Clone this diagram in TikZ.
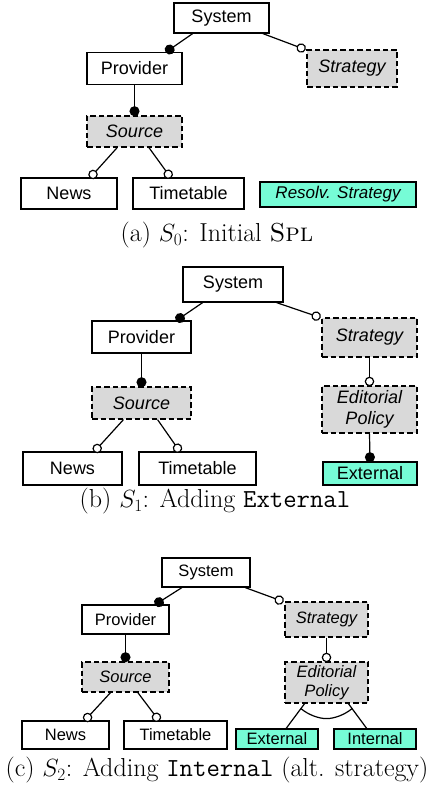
\documentclass[tikz,border=0pt]{standalone}
\usepackage{fontspec}
\newfontfamily\hv{Liberation Sans}
\usetikzlibrary{arrows.meta,calc}
\definecolor{grayf}{RGB}{217,217,217}
\definecolor{cyanf}{RGB}{118,252,214}
\tikzset{
  fbox/.style={draw, line width=1.2pt, fill=white, inner sep=0pt, align=center},
  absbox/.style={fbox, fill=grayf, dash pattern=on 5.5pt off 3pt},
  resbox/.style={fbox, fill=cyanf},
  fa/.style={font=\hv\fontsize{18}{21.5}\selectfont},
  fai/.style={font=\hv\itshape\fontsize{18}{21.5}\selectfont},
  fc/.style={font=\hv\fontsize{16.5}{19.5}\selectfont},
  fci/.style={font=\hv\itshape\fontsize{16.5}{19.5}\selectfont},
  conn/.style={line width=1.2pt},
  mand/.style={conn, -{Circle[length=10pt,width=10pt]}, shorten >=-0.8pt},
  opt/.style={conn, -{Circle[open,length=9.5pt,width=9.5pt,fill=white,line width=1.2pt]}, shorten >=-0.8pt},
  captext/.style={font=\fontsize{26}{30}\selectfont}
}
\newcommand{\bpt}[2]{($(#1.south west)!#2!(#1.south east)$)}
\newcommand{\tpt}[2]{($(#1.north west)!#2!(#1.north east)$)}
\begin{document}
\begin{tikzpicture}[x=1pt,y=-1pt]
\useasboundingbox (0,0) rectangle (433,794);
% ---------- (a)
\node[fbox,fa,minimum width=95pt,minimum height=30pt] (sysA) at (221.5,18) {System};
\node[fbox,fa,minimum width=95pt,minimum height=32pt] (provA) at (134.5,68.5) {Provider};
\node[absbox,fai,minimum width=90pt,minimum height=37pt] (strA) at (352,68.5) {Strategy};
\node[absbox,fai,minimum width=95pt,minimum height=31pt] (srcA) at (134.5,131.5) {Source};
\node[fbox,fa,minimum width=96pt,minimum height=31pt] (newsA) at (69,193.5) {News};
\node[fbox,fa,minimum width=111pt,minimum height=31pt] (timeA) at (188.5,193.5) {Timetable};
\node[resbox,font=\hv\itshape\fontsize{17}{20}\selectfont,minimum width=156pt,minimum height=25pt] (resA) at (338,194.5) {Resolv. Strategy};
\node[captext] (capA) at (217,235) {(a) $S_0$: Initial \textsc{Spl}};
\draw[mand] \bpt{sysA}{0.2} -- \tpt{provA}{0.83};
\draw[opt] \bpt{sysA}{0.93} -- ($(strA.north west)+(-1.5,0)$);
\draw[mand] (provA.south) -- (srcA.north);
\draw[opt] \bpt{srcA}{0.32} -- \tpt{newsA}{0.72};
\draw[opt] \bpt{srcA}{0.65} -- \tpt{timeA}{0.34};
% ---------- (b)
\node[fbox,fa,minimum width=100pt,minimum height=35pt] (sysB) at (233,284.5) {System};
\node[fbox,fa,minimum width=99pt,minimum height=32pt] (provB) at (141.5,337) {Provider};
\node[absbox,fai,minimum width=95pt,minimum height=39pt] (strB) at (369.5,337.5) {Strategy};
\node[absbox,fai,minimum width=99pt,minimum height=32pt] (srcB) at (141.5,403) {Source};
\node[absbox,fai,minimum width=95pt,minimum height=47pt] (edB) at (369.5,409.5) {Editorial\\Policy};
\node[fbox,fa,minimum width=99pt,minimum height=33pt] (newsB) at (72.5,468.5) {News};
\node[fbox,fa,minimum width=117pt,minimum height=33pt] (timeB) at (197.5,468.5) {Timetable};
\node[resbox,fa,minimum width=94pt,minimum height=23pt] (extB) at (370,473.5) {External};
\node[captext] (capB) at (215,501) {(b) $S_1$: Adding \texttt{External}};
\draw[mand] \bpt{sysB}{0.2} -- \tpt{provB}{0.85};
\draw[opt] \bpt{sysB}{0.93} -- ($(strB.north west)+(-1.5,0)$);
\draw[mand] (provB.south) -- (srcB.north);
\draw[opt] \bpt{srcB}{0.32} -- \tpt{newsB}{0.72};
\draw[opt] \bpt{srcB}{0.66} -- \tpt{timeB}{0.35};
\draw[opt] (strB.south) -- (edB.north);
\draw[mand] (edB.south) -- (extB.north);
% ---------- (c)
\node[fbox,fc,minimum width=88pt,minimum height=29pt] (sysC) at (206,572.5) {System};
\node[fbox,fc,minimum width=87pt,minimum height=29pt] (provC) at (125.5,619.5) {Provider};
\node[absbox,fci,minimum width=83pt,minimum height=35pt] (strC) at (326.5,619.5) {Strategy};
\node[absbox,fci,minimum width=87pt,minimum height=30pt] (srcC) at (125.5,677) {Source};
\node[absbox,fci,minimum width=83pt,minimum height=41pt] (edC) at (326.5,682.5) {Editorial\\Policy};
\node[fbox,fc,minimum width=87pt,minimum height=28pt] (newsC) at (65.5,735) {News};
\node[fbox,fc,minimum width=103pt,minimum height=28pt] (timeC) at (175.5,735) {Timetable};
\node[resbox,fc,minimum width=82pt,minimum height=20pt] (extC) at (277,739) {External};
\node[resbox,fc,minimum width=82pt,minimum height=20pt] (intC) at (375,739) {Internal};
\node[captext] (capC) at (217,770) {(c) $S_2$: Adding \texttt{Internal} (alt. strategy)};
\draw[mand] \bpt{sysC}{0.23} -- \tpt{provC}{0.84};
\draw[opt] \bpt{sysC}{0.94} -- ($(strC.north west)+(-1.5,0)$);
\draw[mand] (provC.south) -- (srcC.north);
\draw[opt] \bpt{srcC}{0.33} -- \tpt{newsC}{0.72};
\draw[opt] \bpt{srcC}{0.64} -- \tpt{timeC}{0.34};
\draw[opt] (strC.south) -- (edC.north);
\path \bpt{edC}{0.24} coordinate (eL1);
\path \tpt{extC}{0.61} coordinate (eL2);
\path \bpt{edC}{0.76} coordinate (eR1);
\path \tpt{intC}{0.4} coordinate (eR2);
\draw[conn] (eL1) -- (eL2);
\draw[conn] (eR1) -- (eR2);
\path ($(eL1)!0.2!(eL2)$) coordinate (arcL);
\path ($(eR1)!0.2!(eR2)$) coordinate (arcR);
\path ($(edC.south)+(0,15)$) coordinate (arcM);
\draw[conn] (arcL) .. controls +(7,6) and +(-8,0) .. (arcM) .. controls +(8,0) and +(-7,6) .. (arcR);
\end{tikzpicture}
\end{document}
